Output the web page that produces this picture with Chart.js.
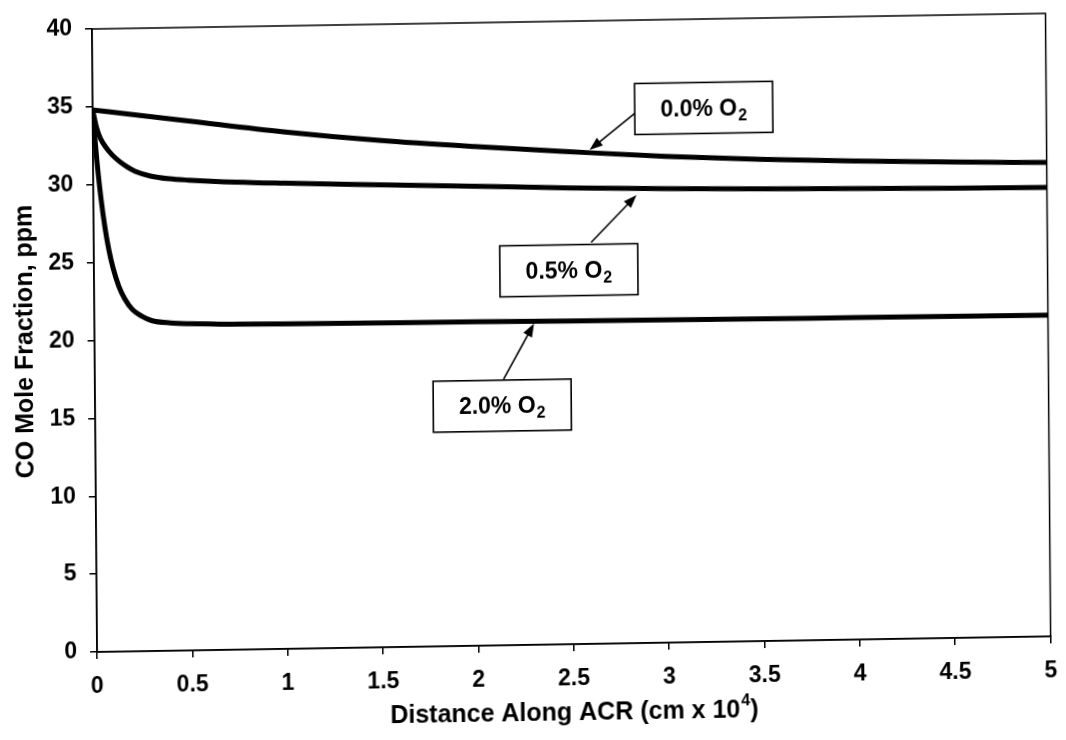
<!DOCTYPE html>
<html>
<head>
<meta charset="utf-8">
<title>CO Mole Fraction along ACR</title>
<script src="https://cdn.jsdelivr.net/npm/chart.js@4.4.1/dist/chart.umd.min.js"></script>
<style>
    html, body { margin: 0; padding: 0; background: #fff; overflow: hidden; }
    /* the reference is a slightly skewed scan, so the canvas gets the same small skew */
    #chart {
        display: block;
        transform-origin: 92px 29px;
        transform: matrix(1, -0.01635, 0.0082, 1, 0, 0);
    }
</style>
</head>
<body>
<canvas id="chart" width="1066" height="740"></canvas>
<script>
// distance along ACR (cm x 10^4) and CO mole fraction (ppm) for each O2 level
const dist00 = [0, 0.25, 0.5, 1, 1.5, 2, 2.5, 3, 3.5, 4, 4.5, 5];
const co00   = [34.8, 34.4, 34.0, 33.2, 32.55, 32.05, 31.62, 31.22, 30.93, 30.72, 30.56, 30.43];

const dist05 = [0, 0.02, 0.04, 0.07, 0.1, 0.14, 0.18, 0.22, 0.3, 0.4, 0.5, 0.75, 1, 1.5, 2, 2.5, 3, 3.5, 4, 4.5, 5];
const co05   = [34.8, 33.65, 32.95, 32.35, 31.9, 31.45, 31.1, 30.82, 30.5, 30.3, 30.2, 30.02, 29.9, 29.7, 29.5, 29.3, 29.15, 29.03, 28.95, 28.88, 28.83];

const dist20 = [0, 0.01, 0.02, 0.04, 0.06, 0.08, 0.1, 0.13, 0.16, 0.2, 0.25, 0.3, 0.4, 0.5, 0.75, 1, 2, 3, 4, 5];
const co20   = [34.8, 33.05, 31.55, 29.1, 27.2, 25.75, 24.65, 23.45, 22.65, 21.95, 21.5, 21.22, 21.05, 20.98, 20.9, 20.86, 20.8, 20.72, 20.67, 20.63];

// boxed labels with arrows (box centre, arrow start, arrow tip in data units)
const callouts = [
    { text: '0.0% O', sub: '2', box: [3.204, 34.29], from: [2.843, 34.02], to: [2.604, 31.72] },
    { text: '0.5% O', sub: '2', box: [2.49, 24.01], from: [2.608, 25.78], to: [2.848, 28.76] },
    { text: '2.0% O', sub: '2', box: [2.135, 15.39], from: [2.143, 17.09], to: [2.305, 20.62] }
];

const xTitle = ['Distance Along ACR (cm x 10', '4', ')'];
const yTitle = 'CO Mole Fraction, ppm';

const FONT = "'Liberation Sans', Arial, Helvetica, sans-serif";

function toPoints(xs, ys) {
    return xs.map((x, i) => ({ x: x, y: ys[i] }));
}

function curve(label, xs, ys) {
    return {
        label: label,
        data: toPoints(xs, ys),
        borderColor: '#000',
        borderWidth: 5,
        pointRadius: 0,
        fill: false,
        cubicInterpolationMode: 'monotone'
    };
}

// white page, frame round the plot, callout boxes and the x title with its superscript
const framePlugin = {
    id: 'frame',
    beforeDraw(chart) {
        const ctx = chart.ctx;
        ctx.save();
        ctx.fillStyle = '#fff';
        ctx.fillRect(0, 0, chart.width, chart.height);
        ctx.restore();
    },
    afterDatasetsDraw(chart) {
        const { ctx, chartArea: a, scales: { x, y } } = chart;
        ctx.save();
        ctx.strokeStyle = '#000';
        ctx.lineWidth = 1.5;
        ctx.strokeRect(a.left, a.top, a.right - a.left, a.bottom - a.top);

        callouts.forEach(c => {
            const x0 = x.getPixelForValue(c.from[0]), y0 = y.getPixelForValue(c.from[1]);
            const x1 = x.getPixelForValue(c.to[0]), y1 = y.getPixelForValue(c.to[1]);
            const ang = Math.atan2(y1 - y0, x1 - x0);
            ctx.fillStyle = '#000';
            ctx.lineWidth = 1.6;
            ctx.beginPath();
            ctx.moveTo(x0, y0);
            ctx.lineTo(x1 - 8 * Math.cos(ang), y1 - 8 * Math.sin(ang));
            ctx.stroke();
            ctx.beginPath();
            ctx.moveTo(x1, y1);
            ctx.lineTo(x1 - 14 * Math.cos(ang - 0.36), y1 - 14 * Math.sin(ang - 0.36));
            ctx.lineTo(x1 - 14 * Math.cos(ang + 0.36), y1 - 14 * Math.sin(ang + 0.36));
            ctx.closePath();
            ctx.fill();

            const cx = x.getPixelForValue(c.box[0]), cy = y.getPixelForValue(c.box[1]);
            const w = 138, h = 51;
            ctx.fillStyle = '#fff';
            ctx.fillRect(cx - w / 2, cy - h / 2, w, h);
            ctx.lineWidth = 1.6;
            ctx.strokeRect(cx - w / 2, cy - h / 2, w, h);

            ctx.fillStyle = '#000';
            ctx.textBaseline = 'alphabetic';
            ctx.textAlign = 'left';
            ctx.font = 'bold 23px ' + FONT;
            const mainW = ctx.measureText(c.text).width;
            ctx.font = 'bold 16px ' + FONT;
            const subW = ctx.measureText(c.sub).width;
            const startX = cx - (mainW + subW + 1) / 2;
            ctx.font = 'bold 23px ' + FONT;
            ctx.fillText(c.text, startX, cy + 8);
            ctx.font = 'bold 16px ' + FONT;
            ctx.fillText(c.sub, startX + mainW + 1, cy + 13);
        });
        ctx.restore();
    },
    afterDraw(chart) {
        const { ctx, scales: { x } } = chart;
        ctx.save();
        ctx.fillStyle = '#000';
        ctx.textBaseline = 'middle';
        ctx.textAlign = 'left';
        ctx.font = 'bold 25px ' + FONT;
        const w0 = ctx.measureText(xTitle[0]).width;
        const w2 = ctx.measureText(xTitle[2]).width;
        ctx.font = 'bold 16px ' + FONT;
        const w1 = ctx.measureText(xTitle[1]).width;
        const cy = x.bottom - 19;
        let sx = (x.left + x.right) / 2 - (w0 + w1 + w2 + 1) / 2;
        ctx.font = 'bold 25px ' + FONT;
        ctx.fillText(xTitle[0], sx, cy);
        ctx.font = 'bold 16px ' + FONT;
        ctx.fillText(xTitle[1], sx + w0 + 1, cy - 9);
        ctx.font = 'bold 25px ' + FONT;
        ctx.fillText(xTitle[2], sx + w0 + w1 + 1, cy);
        ctx.restore();
    }
};

new Chart(document.getElementById('chart'), {
    type: 'line',
    data: {
        datasets: [
            curve('0.0% O2', dist00, co00),
            curve('0.5% O2', dist05, co05),
            curve('2.0% O2', dist20, co20)
        ]
    },
    options: {
        responsive: false,
        animation: false,
        layout: { padding: { top: 29, right: 14, left: 0, bottom: 0 } },
        plugins: {
            legend: { display: false },
            tooltip: { enabled: false }
        },
        scales: {
            x: {
                type: 'linear',
                min: 0,
                max: 5,
                ticks: {
                    stepSize: 0.5,
                    padding: 14,
                    color: '#000',
                    maxRotation: 0,
                    autoSkip: false,
                    font: { family: FONT, size: 23, weight: 'bold' },
                    callback: value => String(value)
                },
                grid: { drawOnChartArea: false, tickLength: 7, color: '#000', lineWidth: 1.5 },
                border: { color: '#000', width: 1.5 },
                afterFit(scale) { scale.height = 88; }
            },
            y: {
                min: 0,
                max: 40,
                ticks: {
                    stepSize: 5,
                    padding: 13,
                    color: '#000',
                    font: { family: FONT, size: 23, weight: 'bold' },
                    callback: value => String(value)
                },
                grid: { drawOnChartArea: false, tickLength: 7, color: '#000', lineWidth: 1.5 },
                border: { color: '#000', width: 1.5 },
                title: {
                    display: true,
                    text: yTitle,
                    color: '#000',
                    padding: { top: 8, bottom: 4 },
                    font: { family: FONT, size: 25, weight: 'bold' }
                },
                afterFit(scale) { scale.width = 92; }
            }
        }
    },
    plugins: [framePlugin]
});
</script>
</body>
</html>
